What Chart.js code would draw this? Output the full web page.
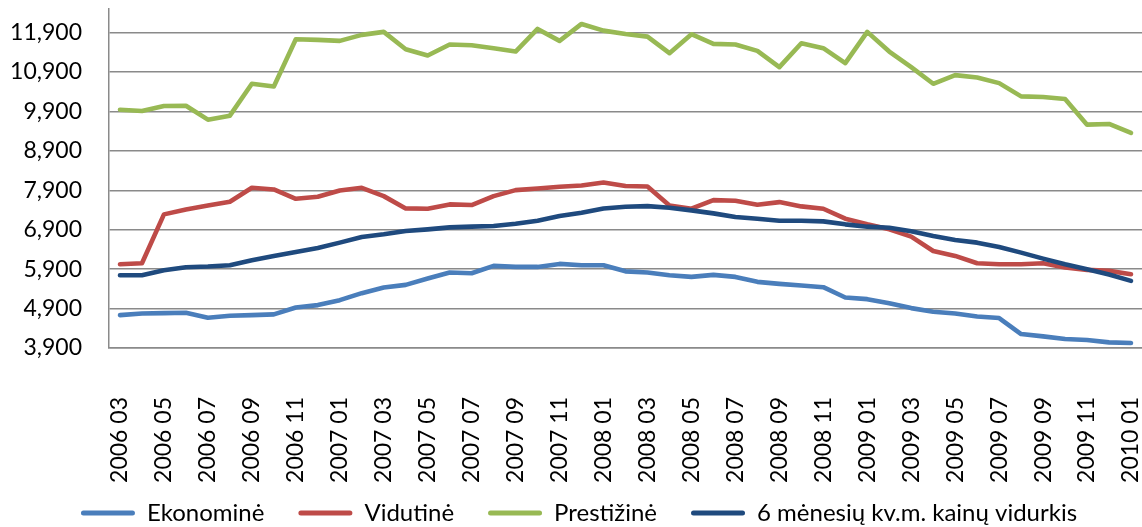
<!DOCTYPE html>
<html>
<head>
<meta charset="utf-8">
<script src="https://cdn.jsdelivr.net/npm/chart.js@4"></script>
<style>
  html, body { margin: 0; padding: 0; background: #fff; }
  #wrap { width: 1142px; height: 527px; position: relative; }
</style>
</head>
<body>
<div id="wrap"><canvas id="kainos"></canvas></div>
<script>
const months = [
  "2006 03", "2006 04", "2006 05", "2006 06", "2006 07", "2006 08", "2006 09", "2006 10", "2006 11", "2006 12",
  "2007 01", "2007 02", "2007 03", "2007 04", "2007 05", "2007 06", "2007 07", "2007 08", "2007 09", "2007 10", "2007 11", "2007 12",
  "2008 01", "2008 02", "2008 03", "2008 04", "2008 05", "2008 06", "2008 07", "2008 08", "2008 09", "2008 10", "2008 11", "2008 12",
  "2009 01", "2009 02", "2009 03", "2009 04", "2009 05", "2009 06", "2009 07", "2009 08", "2009 09", "2009 10", "2009 11", "2009 12",
  "2010 01",
];

const ekonomine = [
  4735, 4777, 4785, 4794, 4667, 4718, 4735, 4752, 4929, 4988,
  5114, 5291, 5435, 5502, 5662, 5814, 5797, 5983, 5957, 5957, 6033, 6000,
  6000, 5845, 5814, 5747, 5704, 5755, 5704, 5578, 5527, 5485, 5443, 5182,
  5139, 5038, 4912, 4819, 4777, 4701, 4659, 4254, 4195, 4128, 4103, 4043,
  4026,
];

const vidutine = [
  6025, 6050, 7290, 7416, 7517, 7610, 7964, 7922, 7686, 7736,
  7897, 7964, 7753, 7441, 7433, 7543, 7526, 7753, 7905, 7947, 7989, 8023,
  8099, 8010, 7998, 7517, 7433, 7652, 7635, 7534, 7601, 7492, 7433, 7180,
  7037, 6910, 6725, 6362, 6236, 6050, 6025, 6025, 6050, 5940, 5881, 5856,
  5772,
];

const prestizine = [
  9945, 9912, 10038, 10046, 9693, 9794, 10603, 10536, 11733, 11716,
  11691, 11843, 11919, 11480, 11320, 11598, 11581, 11505, 11421, 11995, 11691, 12121,
  11952, 11868, 11800, 11379, 11860, 11615, 11598, 11438, 11025, 11632, 11505, 11126,
  11919, 11421, 11025, 10603, 10822, 10763, 10620, 10283, 10266, 10215, 9566, 9583,
  9355,
];

const vidurkis6 = [
  5747, 5747, 5873, 5949, 5966, 6000, 6126, 6236, 6337, 6438,
  6573, 6716, 6784, 6868, 6910, 6961, 6978, 6995, 7054, 7129, 7247, 7332,
  7441, 7483, 7500, 7458, 7391, 7315, 7222, 7180, 7129, 7129, 7112, 7037,
  6978, 6952, 6860, 6742, 6640, 6573, 6463, 6320, 6168, 6025, 5898, 5763,
  5603,
];

const yTicks = [3900, 4900, 5900, 6900, 7900, 8900, 9900, 10900, 11900];

const seriesNames = ["Ekonominė", "Vidutinė", "Prestižinė", "6 mėnesių kv.m. kainų vidurkis"];
const seriesColors = ["#4a7ebb", "#be4b48", "#98b954", "#1f4a7e"];
const seriesData = [ekonomine, vidutine, prestizine, vidurkis6];

const gridGray = "#8a8a8a";
const fontFamily = "Lato, 'Open Sans', sans-serif";

// Excel draws later series on top, chart.js does the reverse
const datasets = seriesData.map((data, i) => ({
  label: seriesNames[i],
  data: data,
  borderColor: seriesColors[i],
  backgroundColor: seriesColors[i],
  borderWidth: 4.6,
  pointRadius: 0,
  tension: 0,
  borderCapStyle: "round",
  borderJoinStyle: "round",
  order: seriesData.length - i,
}));

// legend needs wide gaps between items but not the tall box that comes with them
const nudgeLegend = {
  id: "nudgeLegend",
  afterLayout(chart) {
    const lg = chart.legend;
    lg.left += 8;
    lg.right += 8;
    lg.top = 467;
    lg.bottom = chart.height;
  },
};

const ctx = document.getElementById("kainos").getContext("2d");
const kainosChart = new Chart(ctx, {
  type: "line",
  data: {
    labels: months,
    datasets: datasets,
  },
  plugins: [nudgeLegend],
  options: {
    responsive: true,
    maintainAspectRatio: false,
    animation: false,
    layout: { padding: { top: 9, left: 0, right: 0, bottom: 0 } },
    scales: {
      x: {
        offset: true,
        grid: { display: false, drawTicks: false },
        border: { display: true, color: gridGray, width: 1.5 },
        ticks: {
          autoSkip: false,
          maxRotation: 90,
          minRotation: 90,
          padding: 49,
          color: "#000",
          font: { family: fontFamily, size: 23 },
          callback: (val, idx) => (idx % 2 === 0 ? months[idx] : ""),
        },
        afterFit: (scale) => {
          scale.height = 145;
          scale.paddingLeft = 0;
          scale.paddingRight = 0;
        },
      },
      y: {
        min: 3900,
        max: 12500,
        afterBuildTicks: (scale) => {
          scale.ticks = yTicks.map((v) => ({ value: v }));
        },
        grid: { color: gridGray, lineWidth: 1.5, drawTicks: false },
        border: { display: true, color: gridGray, width: 1.5 },
        ticks: {
          padding: 27,
          color: "#000",
          font: { family: fontFamily, size: 23 },
          callback: (v) => v.toLocaleString("en-US"),
        },
        afterFit: (scale) => {
          scale.width = 109;
          scale.paddingTop = 0;
          scale.paddingBottom = 0;
        },
      },
    },
    plugins: {
      tooltip: { enabled: false },
      legend: {
        position: "bottom",
        maxHeight: 34,
        labels: {
          boxWidth: 54,
          boxHeight: 5,
          padding: 34,
          color: "#000",
          font: { family: fontFamily, size: 24 },
          sort: (a, b) => a.datasetIndex - b.datasetIndex,
          generateLabels: (chart) => {
            const items = Chart.defaults.plugins.legend.labels.generateLabels(chart);
            return items.map((it) =>
              Object.assign(it, { fillStyle: it.strokeStyle, lineWidth: 0, borderRadius: 2.5 })
            );
          },
        },
      },
    },
  },
});
</script>
</body>
</html>
